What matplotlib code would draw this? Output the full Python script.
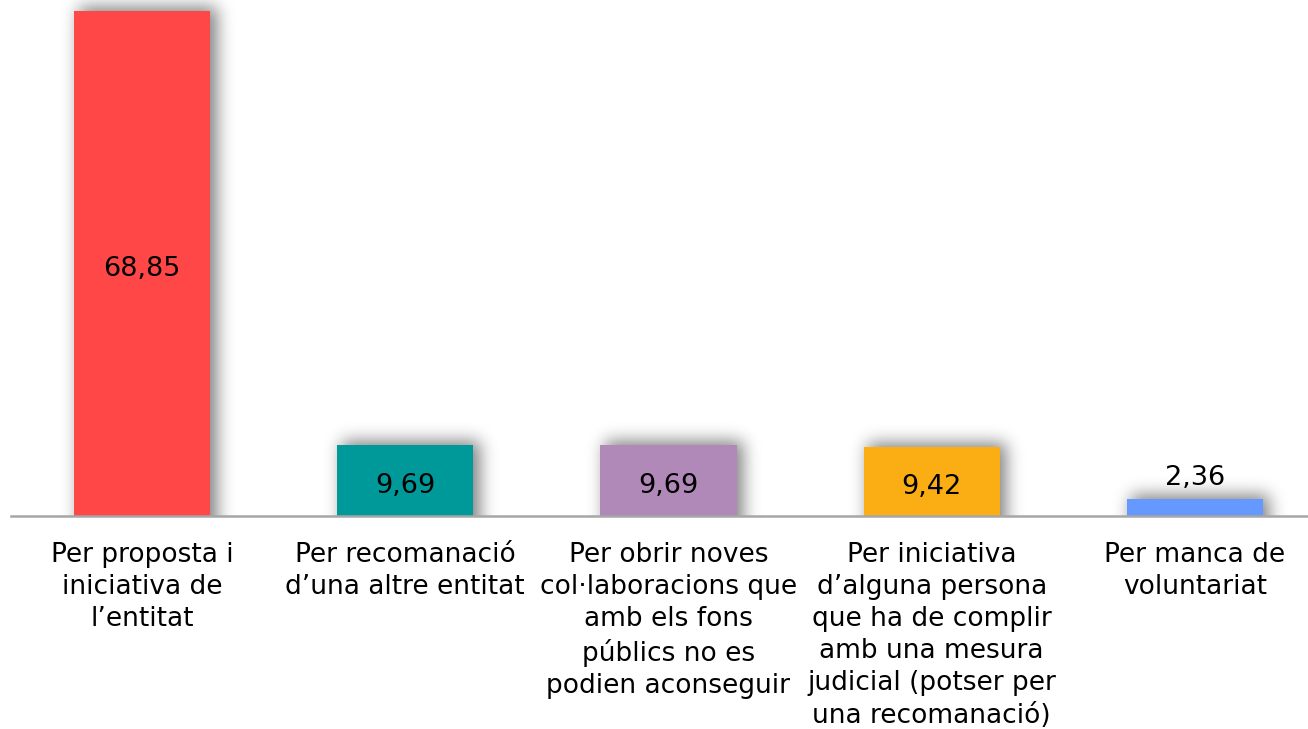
import numpy as np
import matplotlib
matplotlib.use("Agg")
import matplotlib.pyplot as plt

plt.rcParams["font.family"] = ["DejaVu Sans"]

categories = [
    "Per proposta i\niniciativa de\nl\u2019entitat",
    "Per recomanaci\u00f3\nd\u2019una altre entitat",
    "Per obrir noves\ncol\u00b7laboracions que\namb els fons\np\u00fablics no es\npodien aconseguir",
    "Per iniciativa\nd\u2019alguna persona\nque ha de complir\namb una mesura\njudicial (potser per\nuna recomanaci\u00f3)",
    "Per manca de\nvoluntariat",
]
values = [68.85, 9.69, 9.69, 9.42, 2.36]
value_labels = ["68,85", "9,69", "9,69", "9,42", "2,36"]
colors = ["#FF4747", "#009999", "#B189B9", "#FAAE14", "#6699FF"]

W, H = 1308, 729
fig = plt.figure(figsize=(W / 100, H / 100), dpi=100)
fig.patch.set_facecolor("white")

ax_bottom = 516
ax = fig.add_axes([10.5 / W, (H - ax_bottom) / H, 1316 / W, ax_bottom / H])
ax.set_xlim(-0.5, 4.5)
ax.set_ylim(0, 70.35)

x = np.arange(len(values))
bar_w = 0.517
ax.bar(x, values, width=bar_w, color=colors, zorder=3)


def gauss_blur(img, sigma):
    r = int(3 * sigma)
    k = np.exp(-0.5 * (np.arange(-r, r + 1) / sigma) ** 2)
    k /= k.sum()
    img = np.apply_along_axis(lambda m: np.convolve(m, k, mode="same"), 0, img)
    img = np.apply_along_axis(lambda m: np.convolve(m, k, mode="same"), 1, img)
    return img


# soft drop shadow (blurred mask built in pixel space, shifted right/up)
fig.canvas.draw()
bb = ax.get_window_extent()
nw, nh = int(round(bb.width)), int(round(bb.height))
pad = 40
mask = np.zeros((nh + 2 * pad, nw + 2 * pad))
off_x, off_y = 5, 3
for xi, v in zip(x, values):
    (x0, y0), (x1, y1) = ax.transData.transform([(xi - bar_w / 2, 0), (xi + bar_w / 2, v)])
    c0 = int(round(x0 - bb.x0)) + off_x - 1 + pad
    c1 = int(round(x1 - bb.x0)) + off_x + 1 + pad
    r1 = nh - int(round(y1 - bb.y0)) - off_y - 1 + pad
    mask[r1:nh + 2 * pad, c0:c1] = 1.0
mask = gauss_blur(mask, 8.5)[pad:pad + nh, pad:pad + nw]
shadow = np.zeros((nh, nw, 4))
shadow[..., 3] = mask * 0.5
ax.imshow(shadow, extent=(-0.5, 4.5, 0, 70.35), aspect="auto", zorder=2,
          interpolation="bilinear")
ax.set_xlim(-0.5, 4.5)
ax.set_ylim(0, 70.35)

# value labels
for xi, v, lab in zip(x, values, value_labels):
    if v > 5:
        ax.text(xi, v / 2 - 0.3, lab, ha="center", va="center_baseline", fontsize=19.5,
                color="black", zorder=4)
    else:
        ax.text(xi, v + 1.0, lab, ha="center", va="bottom", fontsize=19.5,
                color="black", zorder=4)

# category labels below the axis
for xi, cat in zip(x, categories):
    ax.text(xi, -3.5, cat, ha="center", va="top", fontsize=19,
            linespacing=1.31, color="black")

for side in ["top", "right", "left"]:
    ax.spines[side].set_visible(False)
ax.spines["bottom"].set_color("#A6A6A6")
ax.spines["bottom"].set_linewidth(1.8)
ax.spines["bottom"].set_zorder(5)
ax.set_xticks([])
ax.set_yticks([])
ax.patch.set_visible(False)

fig.savefig("out.png", dpi=100, facecolor="white")
